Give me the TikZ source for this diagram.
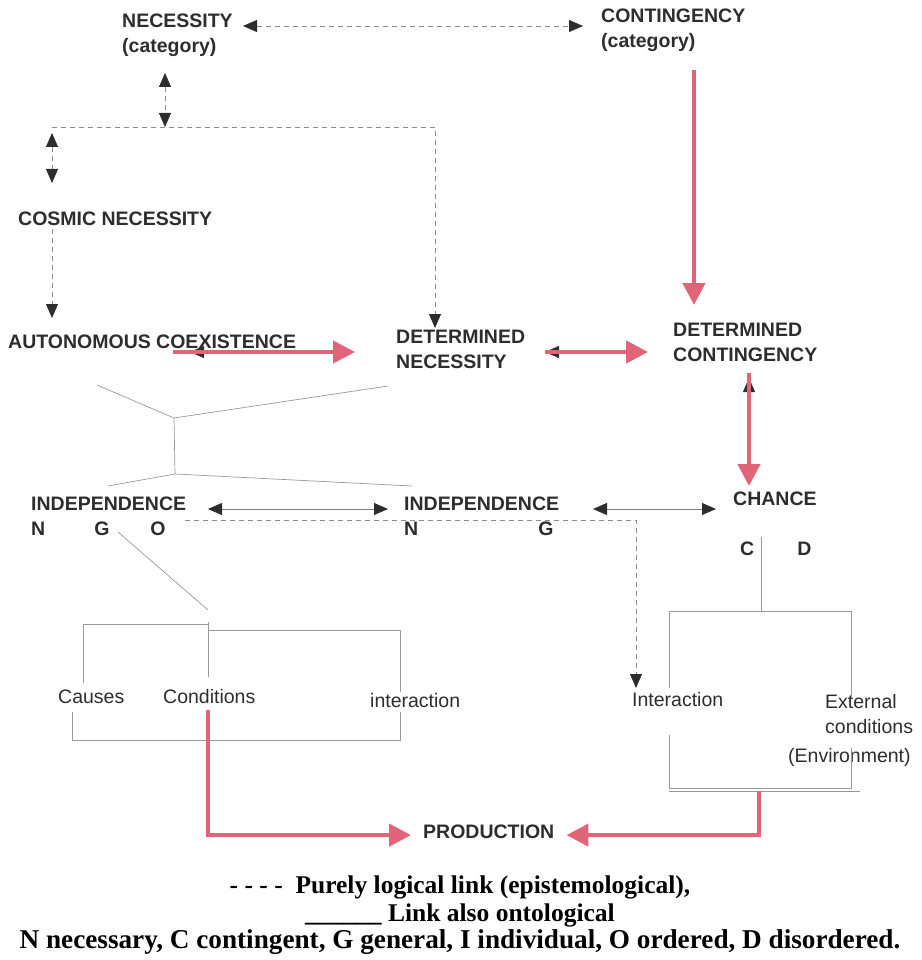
\documentclass[tikz,border=0pt]{standalone}
\usepackage{fontspec}
\setmainfont{Liberation Serif}
\newfontfamily\labfont{Liberation Sans}
\usetikzlibrary{arrows.meta}
\definecolor{linkpink}{RGB}{225,100,120}
\definecolor{inkgray}{RGB}{45,45,45}
\definecolor{dashgray}{RGB}{140,140,140}
\tikzset{
    bhead/.tip={Triangle[length=14pt,width=12pt,color=inkgray]},
    phead/.tip={Triangle[length=22pt,width=22pt]}
}

\begin{document}
\begin{tikzpicture}[x=1pt, y=-1pt,
    concept/.style={anchor=north west, inner sep=0pt, align=left, text=inkgray, font=\labfont\bfseries\fontsize{19.5}{25}\selectfont},
    plain/.style={anchor=base west, inner sep=0pt, text=inkgray, font=\labfont\fontsize{19.5}{25}\selectfont},
    logic/.style={draw=dashgray, line width=0.8pt, dash pattern=on 5pt off 4pt},
    mutual/.style={draw=gray, line width=0.8pt},
    onto/.style={draw=linkpink, line width=4.5pt},
    branch/.style={draw=gray!80, line width=0.7pt}]
    \useasboundingbox (0,0) rectangle (921,960);

    \node[concept] (nec) at (122,14) {NECESSITY\\(category)};
    \node[concept] (cont) at (601,9) {CONTINGENCY\\(category)};
    \node[concept] (cosmic) at (18,212) {COSMIC NECESSITY};
    \node[concept] (auto) at (8,335) {AUTONOMOUS COEXISTENCE};
    \node[concept] (detnec) at (396,330) {DETERMINED\\NECESSITY};
    \node[concept] (detcont) at (673,323) {DETERMINED\\CONTINGENCY};
    \node[concept] (indl) at (31,497) {INDEPENDENCE\\N\hspace{49pt}G\hspace{41pt}O};
    \node[concept] (indm) at (404,497) {INDEPENDENCE\\N\hspace{120pt}G};
    \node[concept] (chance) at (733,492) {CHANCE};
    \node[concept] (cd) at (740,542) {C\hspace{43pt}D};
    \node[concept] (prod) at (423,825) {PRODUCTION};
    \node[plain] (causes) at (58,703) {Causes};
    \node[plain] (cond) at (163,703) {Conditions};
    \node[plain] (inter) at (370,707) {interaction};
    \node[plain] (interr) at (632,706) {Interaction};
    \node[concept, font=\labfont\fontsize{19.5}{25}\selectfont] (ext) at (825,694) {External\\conditions};
    \node[plain] (env) at (788,762) {(Environment)};
    \node[anchor=north, align=center, inner sep=0pt, font=\bfseries\fontsize{25.5}{27.5}\selectfont] (legend) at (460,876)
        {- - - -\ \ Purely logical link (epistemological),\\\_\_\_\_\_\_ Link also ontological\\
        \fontsize{27.2}{27.5}\selectfont N necessary, C contingent, G general, I individual, O ordered, D disordered.};

    \coordinate (necR) at (243,26);
    \coordinate (contL) at (583,26);
    \coordinate (necB) at (165,73);
    \coordinate (splitT) at (165,127);
    \coordinate (splitL) at (52,127);
    \coordinate (splitR) at (435,127);
    \coordinate (detnecT) at (435,328);
    \coordinate (cosmicT) at (52,133);
    \coordinate (cosmicU) at (52,183);
    \coordinate (cosmicB) at (52,229);
    \coordinate (autoT) at (52,318);
    \coordinate (contB) at (694,70);
    \coordinate (detcontT) at (694,305);
    \coordinate (autoP) at (173,352);
    \coordinate (autoTip) at (190,352);
    \coordinate (detnecL) at (355,352);
    \coordinate (detnecR) at (545,352);
    \coordinate (detcontL) at (648,352);
    \coordinate (detcontP) at (749,373);
    \coordinate (detcontB) at (749,378);
    \coordinate (chanceT) at (749,486);
    \coordinate (indlR) at (208,509);
    \coordinate (indmL) at (388,509);
    \coordinate (indmR) at (593,509);
    \coordinate (chanceL) at (716,509);
    \coordinate (ngoR) at (185,520);
    \coordinate (ngoTurn) at (636,520);
    \coordinate (interT) at (636,688);
    \coordinate (autoFoot) at (97,385);
    \coordinate (necFoot) at (388,386);
    \coordinate (joinTop) at (174,418);
    \coordinate (joinBot) at (175,474);
    \coordinate (indlHead) at (108,486);
    \coordinate (indmHead) at (412,486);
    \coordinate (gFoot) at (118,532);
    \coordinate (condTop) at (208,610);
    \coordinate (condB) at (208,710);
    \coordinate (envB) at (759,791);

    \draw[logic, bhead-bhead] (necR) -- (contL);
    \draw[logic, bhead-bhead] (necB) -- (splitT);
    \draw[logic, -bhead] (splitL) -- (splitR) -- (detnecT);
    \draw[logic, bhead-bhead] (cosmicT) -- (cosmicU);
    \draw[logic, -bhead] (cosmicB) -- (autoT);
    \draw[onto, -phead] (contB) -- (detcontT);
    \draw[inkgray, bhead-] (autoTip) -- ++(14,0);
    \draw[onto, -phead] (autoP) -- (detnecL);
    \draw[inkgray, bhead-] (detnecR) -- ++(14,0);
    \draw[onto, -phead] (detnecR) -- (detcontL);
    \draw[inkgray, bhead-] (detcontB) -- ++(0,14);
    \draw[onto, -phead] (detcontP) -- (chanceT);
    \draw[mutual, bhead-bhead] (indlR) -- (indmL);
    \draw[mutual, bhead-bhead] (indmR) -- (chanceL);
    \draw[logic, -bhead] (ngoR) -- (ngoTurn) -- (interT);

    \draw[branch] (autoFoot) -- (joinTop) -- (necFoot);
    \draw[branch] (joinTop) -- (joinBot);
    \draw[branch] (indlHead) -- (joinBot) -- (indmHead);
    \draw[branch] (gFoot) -- (condTop);
    \draw[branch] (83,683) -- (83,624) -- (208,624);
    \draw[branch] (208,622) -- (208,677);
    \draw[branch] (208,630) -- (400,630) -- (400,692);
    \draw[branch] (72,712) -- (72,740) -- (400,740) -- (400,712);
    \draw[branch] (761,537) -- (761,611);
    \draw[branch] (669,688) -- (669,611) -- (851,611) -- (851,697);
    \draw[branch] (669,735) -- (669,788) -- (851,788) -- (851,748);
    \draw[branch] (669,791) -- (860,791);

    \draw[onto, -phead] (condB) |- ([xshift=-12pt,yshift=-3pt]prod.west);
    \draw[onto, -phead] (envB) |- ([xshift=12pt,yshift=-3pt]prod.east);
\end{tikzpicture}
\end{document}
